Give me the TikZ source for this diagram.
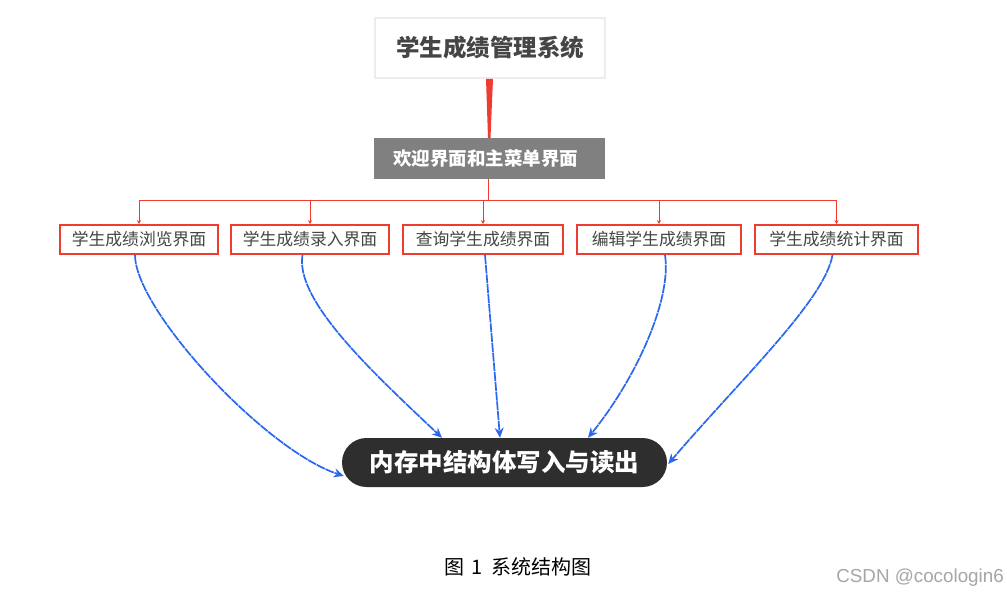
\documentclass[tikz,border=0pt]{standalone}
\usepackage{fontspec}
\newfontfamily\cjk{Noto Sans CJK SC}
\newfontfamily\wmfont{Liberation Sans}
\usetikzlibrary{arrows.meta,calc}
\definecolor{rd}{HTML}{F03C30}
\definecolor{bl}{HTML}{2A68F0}
\definecolor{txtgray}{HTML}{454545}
\definecolor{pillfill}{HTML}{2E2E2E}
\tikzset{
  topbox/.style={draw=black!7, line width=1.5pt, fill=white, minimum width=230pt, minimum height=60pt,
    font=\cjk\bfseries\fontsize{23.5}{28}\selectfont, text=txtgray},
  graybox/.style={fill=black!50, minimum width=231pt, minimum height=41pt,
    font=\cjk\bfseries\fontsize{18.5}{22}\selectfont, text=white},
  subbox/.style={draw=rd, line width=1.8pt, fill=white, minimum height=29pt, inner sep=0pt,
    font=\cjk\fontsize{16.8}{20}\selectfont, text=txtgray},
  pill/.style={fill=pillfill, rounded corners=24.5pt, minimum width=325pt, minimum height=49pt,
    font=\cjk\bfseries\fontsize{24.5}{29}\selectfont, text=white},
  redline/.style={draw=rd, line width=1pt},
  redarrow/.style={redline, -{Stealth[length=4pt,width=4pt]}},
  bluearrow/.style={draw=bl, line width=1.7pt, dash pattern=on 9pt off 0.8pt, -{Stealth[length=10pt,width=9pt]}},
}
\begin{document}
\begin{tikzpicture}[x=1pt,y=-1pt]
\useasboundingbox[fill=white] (0,0) rectangle (1007,595);
% nodes
\node[topbox] (sys) at (490,48) {学生成绩管理系统};
\node[graybox] (menu) at (489.5,158.5) {\hspace*{-8pt}欢迎界面和主菜单界面};
\node[subbox, minimum width=158pt] (b1) at (139,239.5) {学生成绩浏览界面};
\node[subbox, minimum width=158pt] (b2) at (310,239.5) {学生成绩录入界面};
\node[subbox, minimum width=160pt] (b3) at (483,239.5) {查询学生成绩界面};
\node[subbox, minimum width=164pt] (b4) at (659,239.5) {编辑学生成绩界面};
\node[subbox, minimum width=163pt] (b5) at (836.5,239.5) {学生成绩统计界面};
\node[pill] (mem) at (504.5,462.5) {内存中结构体写入与读出};
% red tapered connector
\fill[rd] ($(sys.south)+(-4,0)$) -- ($(sys.south)+(3,0)$) -- ($(menu.north)+(1,0)$) -- ($(menu.north)+(-1.5,0)$) -- cycle;
% tree connectors
\coordinate (jn) at ($(menu.south)+(-1.5,21.5)$);
\draw[redline] ($(menu.south)+(-1.5,0)$) -- (jn);
\draw[redline] (b1.north |- jn) -- (b5.north |- jn);
\foreach \b in {b1,b2,b3,b4,b5}{
  \draw[redarrow] (\b.north |- jn) -- (\b.north);
}
% blue connectors
\draw[bluearrow] ($(b1.south)+(-4,0)$) .. controls (135,310) and (265,450) .. ($(mem.west)+(2,13.5)$);
\draw[bluearrow] ($(b2.south)+(-7.5,0)$) .. controls (295,300) and (370,370) .. ($(mem.north)+(-62.5,0)$);
\draw[bluearrow] ($(b3.south)+(2,0)$) -- ($(mem.north)+(-4.5,0)$);
\draw[bluearrow] ($(b4.south)+(6,0)$) .. controls (672,300) and (635,380) .. ($(mem.north)+(83.5,0)$);
\draw[bluearrow] ($(b5.south)+(-4,0)$) .. controls (825,300) and (740,380) .. ($(mem.east)+(1,1.5)$);
% caption and watermark
\node[anchor=west, inner sep=0pt, font=\cjk\fontsize{20}{24}\selectfont] (cap) at (444,567) {图\hspace{7pt}1\hspace{9pt}系统结构图};
\node[anchor=east, inner sep=0pt, font=\wmfont\fontsize{18.8}{22}\selectfont, text=black!35] (wm) at (1004,578) {CSDN @cocologin6};
\end{tikzpicture}
\end{document}
